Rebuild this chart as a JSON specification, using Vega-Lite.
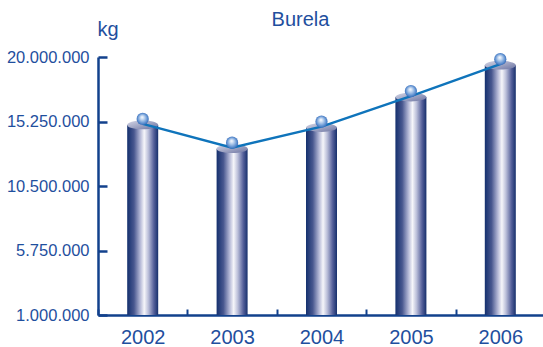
{
  "$schema": "https://vega.github.io/schema/vega-lite/v6.json",
  "autosize": "none",
  "width": 447,
  "height": 258,
  "padding": {"left": 98, "top": 57, "right": 0, "bottom": 32},
  "background": "white",
  "config": {
    "locale": {"number": {"decimal": ",", "thousands": ".", "grouping": [3], "currency": ["", " €"]}},
    "view": {"stroke": null},
    "font": "Liberation Sans"
  },
  "title": {
    "text": "Burela",
    "font": "Liberation Sans",
    "fontSize": 20,
    "fontWeight": "normal",
    "color": "#1f4f9e",
    "anchor": "middle",
    "frame": "group",
    "dx": -21,
    "dy": 11,
    "offset": 0
  },
  "data": {
    "values": [
      {"year": "2002", "value": 15000000},
      {"year": "2003", "value": 13250000},
      {"year": "2004", "value": 14800000},
      {"year": "2005", "value": 17050000},
      {"year": "2006", "value": 19400000}
    ]
  },
  "encoding": {
    "x": {
      "field": "year",
      "type": "ordinal",
      "scale": {"paddingInner": 0, "paddingOuter": 0},
      "axis": {
        "title": null,
        "labelAngle": 0,
        "labelFont": "Liberation Sans",
        "labelFontSize": 20,
        "labelColor": "#1f4f9e",
        "domainColor": "#12418c",
        "domainWidth": 2.5,
        "tickColor": "#12418c",
        "tickWidth": 2,
        "tickSize": -6,
        "tickBand": "extent",
        "labelPadding": 18,
        "grid": false
      }
    }
  },
  "layer": [
    {
      "mark": {
        "type": "bar",
        "size": 31,
        "fill": {
          "x1": 0, "y1": 0, "x2": 1, "y2": 0,
          "gradient": "linear",
          "stops": [
            {"offset": 0, "color": "#14306e"},
            {"offset": 0.22, "color": "#48578f"},
            {"offset": 0.42, "color": "#b4b8d6"},
            {"offset": 0.55, "color": "#f6f6fa"},
            {"offset": 0.68, "color": "#bcc0da"},
            {"offset": 0.86, "color": "#55609a"},
            {"offset": 1, "color": "#17306c"}
          ]
        }
      },
      "encoding": {
        "y": {
          "field": "value",
          "type": "quantitative",
          "scale": {"domain": [1000000, 20000000], "zero": false, "nice": false},
          "axis": {
            "values": [1000000, 5750000, 10500000, 15250000, 20000000],
            "format": ",d",
            "title": "kg",
            "titleAngle": 0,
            "titleX": -1,
            "titleY": -22,
            "titleAlign": "left",
            "titleBaseline": "alphabetic",
            "titleFont": "Liberation Sans",
            "titleFontSize": 20,
            "titleFontWeight": "normal",
            "titleColor": "#1f4f9e",
            "labelFont": "Liberation Sans",
            "labelFontSize": 16.5,
            "labelColor": "#1f4f9e",
            "domainColor": "#12418c",
            "domainWidth": 2.5,
            "tickColor": "#12418c",
            "tickWidth": 2.5,
            "tickSize": -9,
            "labelPadding": 18,
            "grid": false
          }
        },
        "y2": {"datum": 1000000}
      }
    },
    {
      "mark": {
        "type": "point",
        "filled": true,
        "opacity": 1,
        "size": 961,
        "shape": "M-1,0 A1,0.28,0,1,1,1,0 A1,0.28,0,1,1,-1,0 Z",
        "fill": {
          "x1": 0, "y1": 0, "x2": 1, "y2": 1,
          "gradient": "linear",
          "stops": [
            {"offset": 0, "color": "#d4d6e6"},
            {"offset": 1, "color": "#6c74a2"}
          ]
        }
      },
      "encoding": {"y": {"field": "value", "type": "quantitative"}}
    },
    {
      "mark": {"type": "line", "color": "#0f74bb", "strokeWidth": 2.5, "yOffset": -1},
      "encoding": {"y": {"field": "value", "type": "quantitative"}}
    },
    {
      "mark": {
        "type": "point",
        "filled": true,
        "opacity": 1,
        "size": 150,
        "shape": "circle",
        "yOffset": -6,
        "fill": {
          "gradient": "radial",
          "x1": 0.45, "y1": 0.35, "r1": 0,
          "x2": 0.5, "y2": 0.5, "r2": 0.55,
          "stops": [
            {"offset": 0, "color": "#ffffff"},
            {"offset": 0.3, "color": "#c2d6f0"},
            {"offset": 0.75, "color": "#5a8ed0"},
            {"offset": 1, "color": "#2f60ae"}
          ]
        }
      },
      "encoding": {"y": {"field": "value", "type": "quantitative"}}
    }
  ]
}
